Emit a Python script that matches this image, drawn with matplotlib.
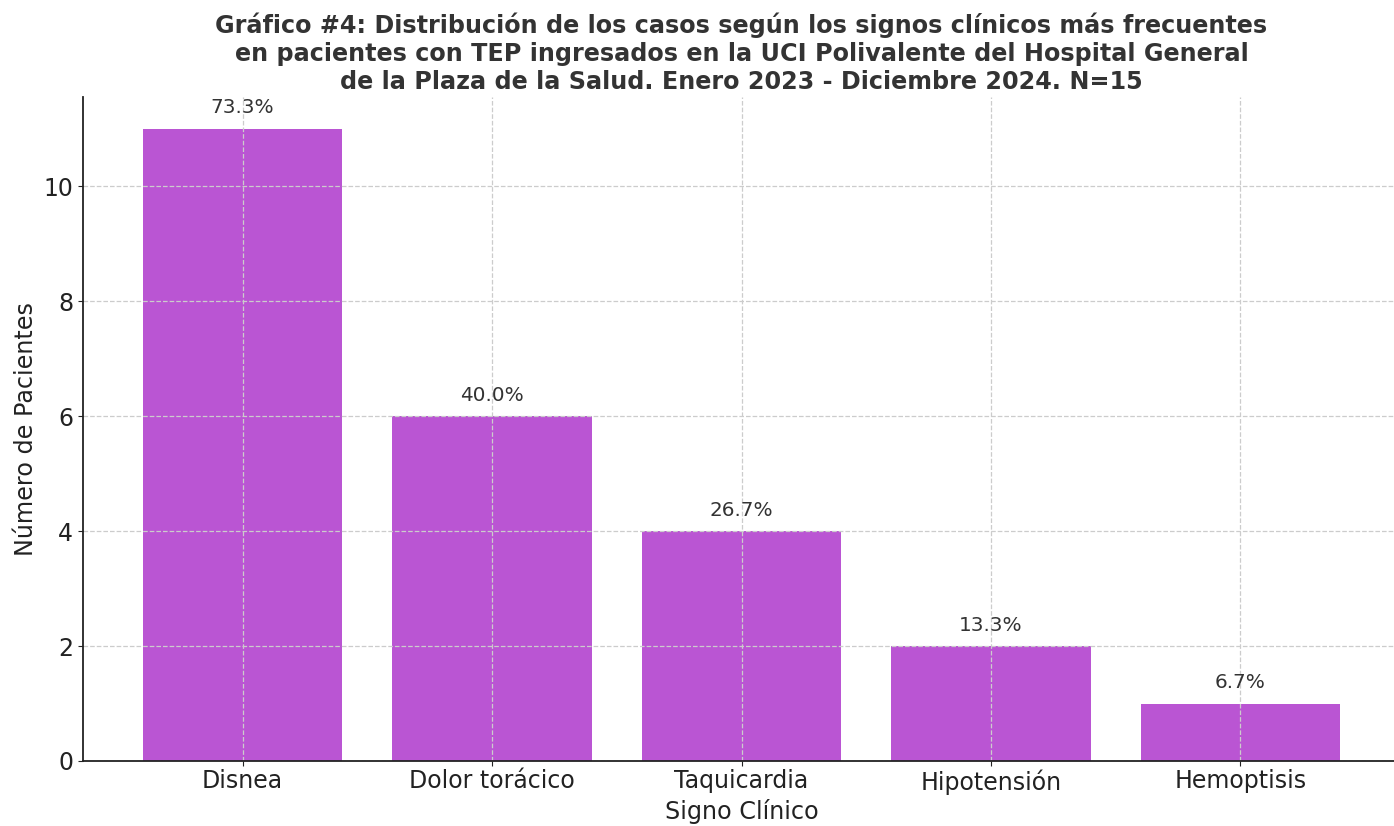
import matplotlib.pyplot as plt

# --- Data ---
signos = ["Disnea", "Dolor torácico", "Taquicardia", "Hipotensión", "Hemoptisis"]
pacientes = [11, 6, 4, 2, 1]
porcentajes = ["73.3%", "40.0%", "26.7%", "13.3%", "6.7%"]

titulo = ("Gráfico #4: Distribución de los casos según los signos clínicos más frecuentes\n"
          "en pacientes con TEP ingresados en la UCI Polivalente del Hospital General\n"
          "de la Plaza de la Salud. Enero 2023 - Diciembre 2024. N=15")

# --- Plot ---
fig, ax = plt.subplots(figsize=(13.94, 8.26), dpi=100)
# the original axes runs a few pixels past the right edge of the image
fig.subplots_adjust(left=83 / 1394, right=1400 / 1394, bottom=1 - 761 / 826, top=1 - 97 / 826)

bars = ax.bar(signos, pacientes, color="#BA55D3", width=0.8)

for bar, pct in zip(bars, porcentajes):
    ax.text(bar.get_x() + bar.get_width() / 2, bar.get_height() + 0.2, pct,
            ha="center", va="bottom", fontsize=14.4, color="#333333")

ax.set_title(titulo, fontsize=17.2, fontweight="bold", color="#333333", pad=6)
ax.set_xlabel("Signo Clínico", fontsize=17.2, color="#222222", labelpad=3)
ax.set_ylabel("Número de Pacientes", fontsize=17.2, color="#222222")
ax.tick_params(axis="both", labelsize=17, colors="#222222")
ax.tick_params(axis="x", pad=2.5)

ax.grid(True, linestyle="--", color="#CCCCCC", linewidth=0.9)
ax.spines["top"].set_visible(False)
ax.spines["right"].set_visible(False)
ax.spines["left"].set_color("#222222")
ax.spines["bottom"].set_color("#222222")
ax.spines["left"].set_linewidth(1.3)
ax.spines["bottom"].set_linewidth(1.3)

plt.savefig("out.png", dpi=100)
